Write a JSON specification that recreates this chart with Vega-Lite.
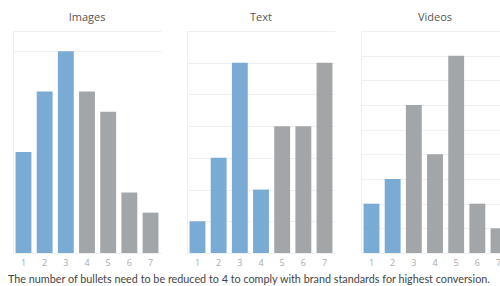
{
  "$schema": "https://vega.github.io/schema/vega-lite/v6.json",
  "padding": {"left": 8, "top": 12, "right": 5, "bottom": 0},
  "background": "white",
  "title": {
    "text": "The number of bullets need to be reduced to 4 to comply with brand standards for highest conversion.",
    "orient": "bottom",
    "anchor": "start",
    "dx": -5,
    "offset": 7,
    "fontSize": 10.8,
    "fontWeight": "normal",
    "font": "Lato",
    "color": "#444444"
  },
  "datasets": {
    "bullets": [
      {"type": "Images", "bullets": 1, "count": 5, "recommended": "yes"},
      {"type": "Images", "bullets": 2, "count": 8, "recommended": "yes"},
      {"type": "Images", "bullets": 3, "count": 10, "recommended": "yes"},
      {"type": "Images", "bullets": 4, "count": 8, "recommended": "no"},
      {"type": "Images", "bullets": 5, "count": 7, "recommended": "no"},
      {"type": "Images", "bullets": 6, "count": 3, "recommended": "no"},
      {"type": "Images", "bullets": 7, "count": 2, "recommended": "no"},
      {"type": "Text", "bullets": 1, "count": 1, "recommended": "yes"},
      {"type": "Text", "bullets": 2, "count": 3, "recommended": "yes"},
      {"type": "Text", "bullets": 3, "count": 6, "recommended": "yes"},
      {"type": "Text", "bullets": 4, "count": 2, "recommended": "yes"},
      {"type": "Text", "bullets": 5, "count": 4, "recommended": "no"},
      {"type": "Text", "bullets": 6, "count": 4, "recommended": "no"},
      {"type": "Text", "bullets": 7, "count": 6, "recommended": "no"},
      {"type": "Videos", "bullets": 1, "count": 2, "recommended": "yes"},
      {"type": "Videos", "bullets": 2, "count": 3, "recommended": "yes"},
      {"type": "Videos", "bullets": 3, "count": 6, "recommended": "no"},
      {"type": "Videos", "bullets": 4, "count": 4, "recommended": "no"},
      {"type": "Videos", "bullets": 5, "count": 8, "recommended": "no"},
      {"type": "Videos", "bullets": 6, "count": 2, "recommended": "no"},
      {"type": "Videos", "bullets": 7, "count": 1, "recommended": "no"}
    ]
  },
  "data": {"name": "bullets"},
  "spacing": 26,
  "config": {
    "view": {"stroke": null},
    "font": "Open Sans",
    "title": {"fontSize": 11, "fontWeight": "normal", "color": "#555555", "offset": 8, "font": "Open Sans"},
    "axisX": {
      "title": null, "labelAngle": 0, "domain": false, "ticks": false,
      "labelColor": "#aaaaaa", "labelFontSize": 9, "labelPadding": 5, "grid": false
    },
    "axisY": {
      "title": null, "labels": false, "ticks": false, "domain": true,
      "domainColor": "#eeeeee", "gridColor": "#f0f0f0", "grid": true
    }
  },
  "hconcat": [
    {
      "title": "Images",
      "width": 148, "height": 222,
      "transform": [{"filter": "datum.type === 'Images'"}],
      "mark": {"type": "bar"},
      "encoding": {
        "x": {"field": "bullets", "type": "ordinal", "scale": {"paddingInner": 0.25, "paddingOuter": 0.12}},
        "y": {"field": "count", "type": "quantitative", "scale": {"domain": [0, 11], "nice": false}, "axis": {"values": [0, 10, 11]}},
        "color": {"field": "recommended", "type": "nominal", "scale": {"domain": ["yes", "no"], "range": ["#7aabd4", "#a3a6a9"]}, "legend": null}
      }
    },
    {
      "title": "Text",
      "width": 148, "height": 222,
      "transform": [{"filter": "datum.type === 'Text'"}],
      "mark": {"type": "bar"},
      "encoding": {
        "x": {"field": "bullets", "type": "ordinal", "scale": {"paddingInner": 0.25, "paddingOuter": 0.12}},
        "y": {"field": "count", "type": "quantitative", "scale": {"domain": [0, 7], "nice": false}, "axis": {"values": [0, 1, 2, 3, 4, 5, 6, 7]}},
        "color": {"field": "recommended", "type": "nominal", "scale": {"domain": ["yes", "no"], "range": ["#7aabd4", "#a3a6a9"]}, "legend": null}
      }
    },
    {
      "title": "Videos",
      "width": 148, "height": 222,
      "transform": [{"filter": "datum.type === 'Videos'"}],
      "mark": {"type": "bar"},
      "encoding": {
        "x": {"field": "bullets", "type": "ordinal", "scale": {"paddingInner": 0.25, "paddingOuter": 0.12}},
        "y": {"field": "count", "type": "quantitative", "scale": {"domain": [0, 9], "nice": false}, "axis": {"values": [0, 1, 2, 3, 4, 5, 6, 7, 8, 9]}},
        "color": {"field": "recommended", "type": "nominal", "scale": {"domain": ["yes", "no"], "range": ["#7aabd4", "#a3a6a9"]}, "legend": null}
      }
    }
  ]
}
